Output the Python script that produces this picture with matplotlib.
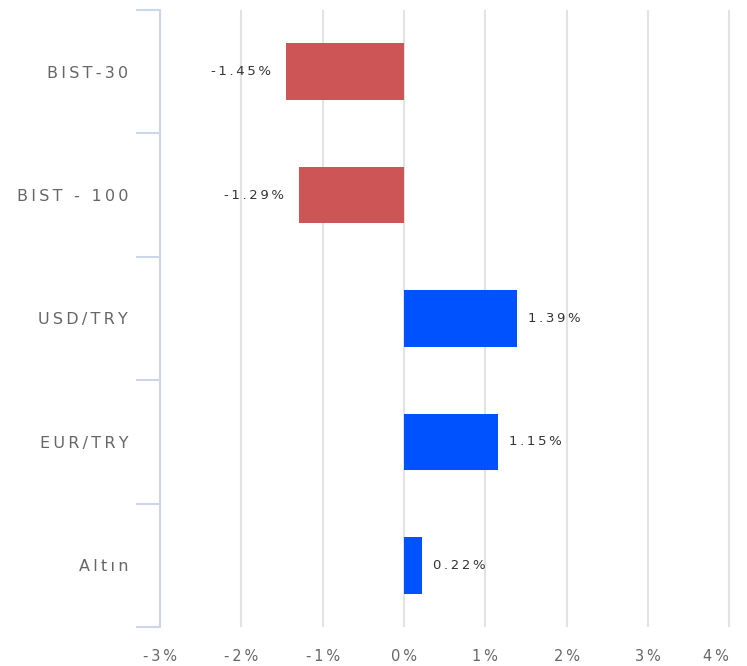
import numpy as np
import matplotlib
matplotlib.use("agg")
import matplotlib.pyplot as plt

categories = ['BIST-30', 'BIST - 100', 'USD/TRY', 'EUR/TRY', 'Altın']
changes = [-1.45, -1.29, 1.39, 1.15, 0.22]
xticks = [-3, -2, -1, 0, 1, 2, 3, 4]

RED = '#cd5555'
BLUE = '#0052ff'
AXIS = '#ccd6eb'
GRID = '#e3e3e3'


def spaced(s, sp='\u2009'):
    '''fake letter spacing'''
    return sp.join(s)


fig = plt.figure(figsize=(7.47, 6.66), dpi=100)
ax = fig.add_axes([160 / 747, 1 - 627 / 666, (735 - 160) / 747, (627 - 10) / 666])

pos = np.arange(len(categories))
colors = [RED if v < 0 else BLUE for v in changes]
ax.barh(pos, changes, height=0.46, color=colors, zorder=3)

for p, v in zip(pos, changes):
    txt = spaced('%.2f%%' % v)
    if v < 0:
        ax.annotate(txt, (v, p), xytext=(-11, 0), textcoords='offset points',
                    ha='right', va='center', fontsize=9.5, color='#333333')
    else:
        ax.annotate(txt, (v, p), xytext=(8, 0), textcoords='offset points',
                    ha='left', va='center', fontsize=9.5, color='#333333')

ax.set_ylim(len(categories) - 0.5, -0.5)
ax.set_xlim(-3, 4.07)

# category boundaries as ticks, labels in the middle
ax.set_yticks(np.arange(len(categories) + 1) - 0.5)
ax.set_yticklabels([])
ax.set_yticks(pos, minor=True)
ax.set_yticklabels([spaced(c) for c in categories], minor=True, fontsize=11.5, color='#666666')
ax.tick_params(axis='y', which='major', length=17, width=1.5, color=AXIS)
ax.tick_params(axis='y', which='minor', length=0, pad=23)

ax.set_xticks(xticks)
ax.set_xticklabels([spaced('%d%%' % t) for t in xticks],
                   fontsize=10.5, color='#666666')
ax.get_xticklabels()[-1].set_ha('right')
ax.tick_params(axis='x', length=0, pad=16)
ax.grid(axis='x', color=GRID, linewidth=1.5, zorder=0)

for s in ['top', 'right', 'bottom']:
    ax.spines[s].set_visible(False)
ax.spines['left'].set_color(AXIS)
ax.spines['left'].set_linewidth(1.5)

plt.savefig('out.png', dpi=100)
